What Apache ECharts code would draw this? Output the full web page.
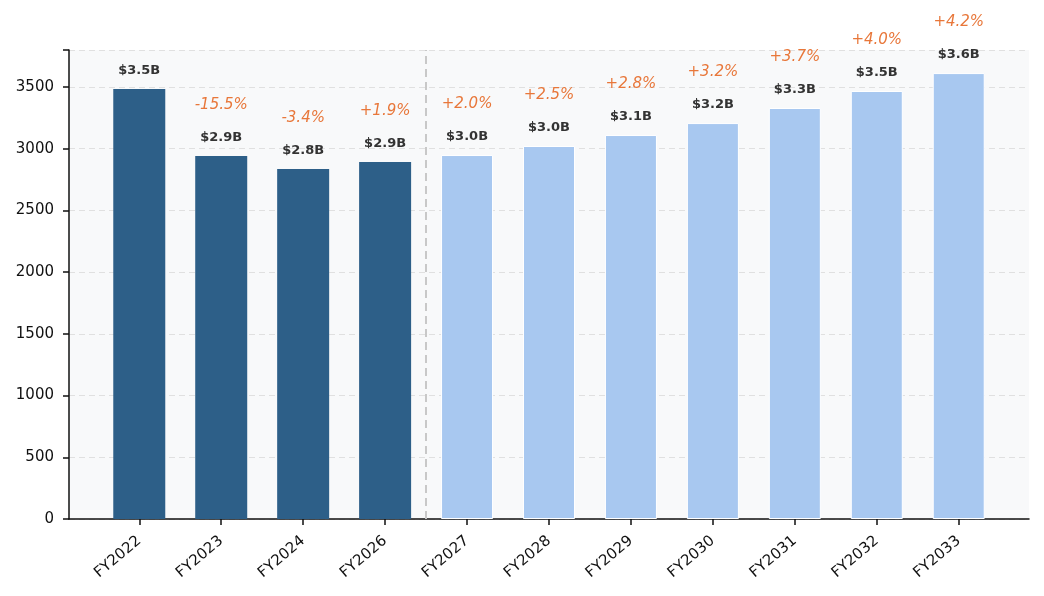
<!DOCTYPE html>
<html>
<head>
<meta charset="utf-8">
<script src="https://cdn.jsdelivr.net/npm/echarts@6/dist/echarts.min.js"></script>
<style>
  html, body { margin: 0; padding: 0; background: #fff; }
  #chart { width: 1044px; height: 596px; }
</style>
</head>
<body>
<div id="chart"></div>
<script>
// data
var years = ['FY2022', 'FY2023', 'FY2024', 'FY2026', 'FY2027', 'FY2028', 'FY2029', 'FY2030', 'FY2031', 'FY2032', 'FY2033'];
var revenue = [3484, 2941, 2836, 2892, 2949, 3022, 3111, 3208, 3330, 3468, 3613];
var valueLabels = ['$3.5B', '$2.9B', '$2.8B', '$2.9B', '$3.0B', '$3.0B', '$3.1B', '$3.2B', '$3.3B', '$3.5B', '$3.6B'];
var growthLabels = ['', '-15.5%', '-3.4%', '+1.9%', '+2.0%', '+2.5%', '+2.8%', '+3.2%', '+3.7%', '+4.0%', '+4.2%'];
var actualCount = 4; // first 4 bars are actuals, the rest forecast
var yTicks = [0, 500, 1000, 1500, 2000, 2500, 3000, 3500];

var darkBlue = '#2d5f88';
var lightBlue = '#a8c8f0';
var font = 'DejaVu Sans';

// x positions 0..n-1, padded like the original's margins
var xIdx = years.map(function (_, i) { return i; });
var xPad = 0.8575;

var chart = echarts.init(document.getElementById('chart'));

var barData = revenue.map(function (v, i) {
    var forecast = i >= actualCount;
    return {
        value: [xIdx[i], v],
        itemStyle: {
            color: forecast ? lightBlue : darkBlue,
            borderColor: forecast ? '#ffffff' : darkBlue,
            borderWidth: forecast ? 1 : 0
        }
    };
});
var ghostData = revenue.map(function (v, i) { return [xIdx[i], v]; });

var option = {
    animation: false,
    grid: {
        left: 69, right: 15, top: 50, bottom: 77,
        show: true, backgroundColor: '#f8f9fa', borderWidth: 0
    },
    xAxis: {
        type: 'value',
        min: -xPad, max: years.length - 1 + xPad,
        axisLine: { onZero: false, lineStyle: { color: '#111', width: 1.5 } },
        axisTick: { show: true, length: 6, customValues: xIdx, lineStyle: { color: '#111', width: 1.5 } },
        axisLabel: {
            customValues: xIdx,
            rotate: 40, color: '#111', fontSize: 15, fontFamily: font, margin: 20,
            formatter: function (v) { return years[Math.round(v)]; }
        },
        splitLine: { show: false }
    },
    yAxis: {
        type: 'value',
        min: 0, max: 3800, interval: 500,
        axisLine: { show: true, onZero: false, lineStyle: { color: '#111', width: 1.5 } },
        axisTick: { show: true, length: 6, lineStyle: { color: '#111', width: 1.5 } },
        axisLabel: {
            color: '#111', fontSize: 15, fontFamily: font, margin: 15,
            formatter: function (v) { return yTicks.indexOf(v) >= 0 ? String(v) : ''; }
        },
        splitLine: { lineStyle: { color: '#e0e0e0', type: [6, 4], width: 1 } }
    },
    series: [
        {
            name: 'Revenue',
            type: 'bar',
            data: barData,
            barWidth: 52,
            z: 3,
            label: {
                show: true, position: 'top', distance: 12,
                color: '#333', fontSize: 13, fontWeight: 'bold', fontFamily: font,
                formatter: function (p) { return valueLabels[p.dataIndex]; }
            }
        },
        {
            name: 'Growth',
            type: 'bar',
            data: ghostData,
            barWidth: 52,
            barGap: '-100%',
            itemStyle: { color: 'rgba(0,0,0,0)' },
            silent: true,
            z: 2,
            label: {
                show: true, position: 'top', distance: 43,
                color: '#e8773a', fontSize: 15, fontStyle: 'italic', fontFamily: font,
                formatter: function (p) { return growthLabels[p.dataIndex]; }
            },
            markLine: {
                silent: true,
                symbol: 'none',
                label: { show: false },
                lineStyle: { color: '#c8c8c8', type: [8, 5], width: 2 },
                data: [{ xAxis: actualCount - 0.5 }]
            }
        }
    ]
};

chart.setOption(option);
</script>
</body>
</html>
